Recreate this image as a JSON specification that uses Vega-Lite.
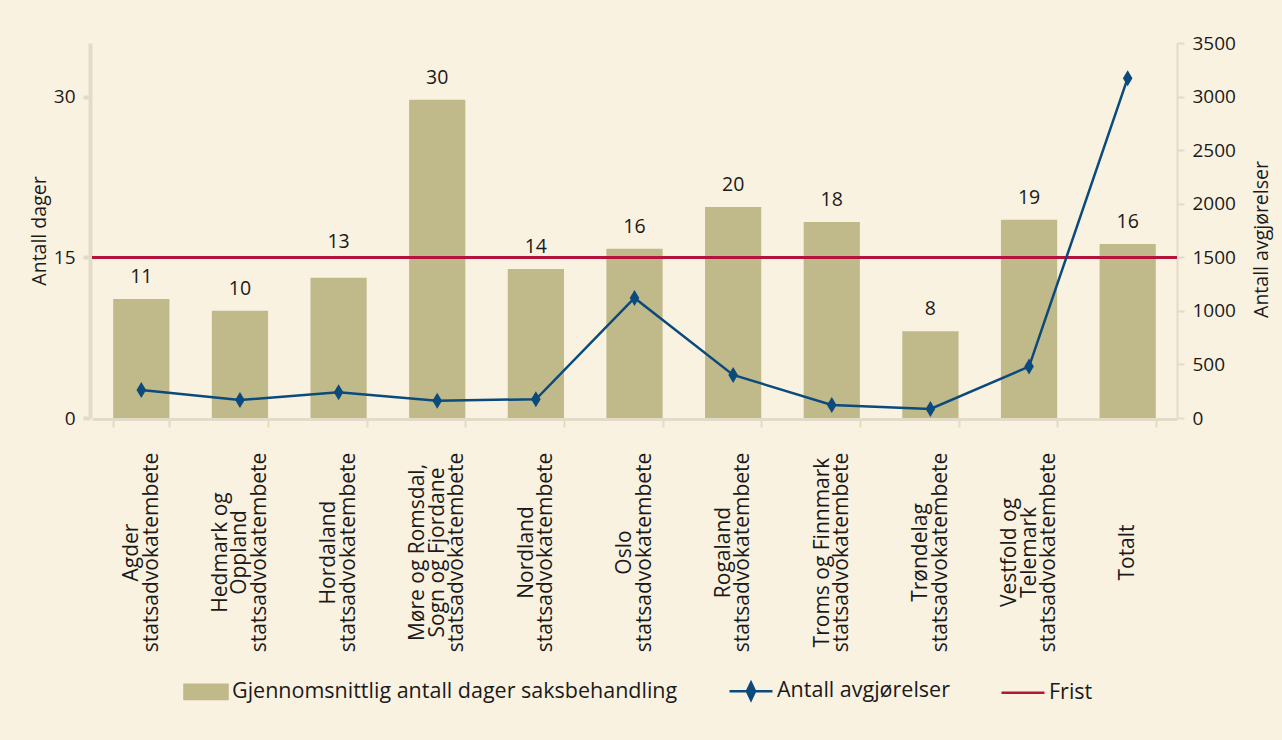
{
  "$schema": "https://vega.github.io/schema/vega-lite/v6.json",
  "width": 1085,
  "height": 375,
  "autosize": {"type": "none"},
  "padding": {"left": 92, "top": 43, "right": 105, "bottom": 322},
  "background": "#faf2e1",
  "config": {
    "view": {"stroke": null},
    "font": "Open Sans",
    "axis": {"grid": false, "labelFont": "Open Sans", "titleFont": "Open Sans", "labelColor": "#1a1a1a", "titleColor": "#1a1a1a", "labelFontSize": 19, "titleFontSize": 19.5, "titleFontWeight": "normal", "domainColor": "#e3dbc7", "tickColor": "#e3dbc7"},
    "legend": {"labelFont": "Open Sans", "labelFontSize": 21.5, "labelColor": "#1a1a1a", "labelLimit": 600}
  },
  "data": {
    "values": [
      {"kategori": "Agder\nstatsadvokatembete", "dager": 11.1, "avgjorelser": 262},
      {"kategori": "Hedmark og\nOppland\nstatsadvokatembete", "dager": 10.0, "avgjorelser": 168},
      {"kategori": "Hordaland\nstatsadvokatembete", "dager": 13.1, "avgjorelser": 240},
      {"kategori": "Møre og Romsdal,\nSogn og Fjordane\nstatsadvokatembete", "dager": 29.7, "avgjorelser": 162},
      {"kategori": "Nordland\nstatsadvokatembete", "dager": 13.9, "avgjorelser": 175},
      {"kategori": "Oslo\nstatsadvokatembete", "dager": 15.8, "avgjorelser": 1120},
      {"kategori": "Rogaland\nstatsadvokatembete", "dager": 19.7, "avgjorelser": 402},
      {"kategori": "Troms og Finnmark\nstatsadvokatembete", "dager": 18.3, "avgjorelser": 122},
      {"kategori": "Trøndelag\nstatsadvokatembete", "dager": 8.1, "avgjorelser": 84},
      {"kategori": "Vestfold og\nTelemark\nstatsadvokatembete", "dager": 18.5, "avgjorelser": 480},
      {"kategori": "Totalt", "dager": 16.25, "avgjorelser": 3172}
    ]
  },
  "encoding": {
    "x": {
      "field": "kategori", "type": "nominal", "sort": null,
      "scale": {"paddingInner": 0.43, "paddingOuter": 0.215},
      "axis": {
        "title": null, "labelAngle": -90, "labelAlign": "center", "labelBaseline": "middle",
        "labelExpr": "split(datum.label, '\\n')", "labelLineHeight": 19.5, "labelFontSize": 21,
        "labelOffset": {"condition": [{"test": "split(datum.value, '\\n').length === 3", "value": -19.5}, {"test": "split(datum.value, '\\n').length === 2", "value": -9.75}], "value": 0},
        "labelPadding": 125, "labelLimit": 400, "labelOverlap": false, "labelFlush": false,
        "tickBand": "extent", "tickSize": 8, "tickWidth": 2, "domainWidth": 3, "offset": 1
      }
    }
  },
  "layer": [
    {
      "layer": [
        {
          "mark": {"type": "bar", "color": "#c0b98a"},
          "encoding": {
            "y": {
              "field": "dager", "type": "quantitative",
              "scale": {"domain": [0, 35]},
              "axis": {"title": "Antall dager", "values": [0, 15, 30], "tickSize": 7, "tickWidth": 4, "domainWidth": 4, "labelPadding": 8, "titlePadding": 4, "offset": 2}
            },
            "color": {
              "datum": "Gjennomsnittlig antall dager saksbehandling",
              "scale": {
                "domain": ["Gjennomsnittlig antall dager saksbehandling", "Antall avgjørelser", "Frist"],
                "range": ["#c0b98a", "#0b4a7c", "#b3133c"]
              },
              "legend": {
                "title": null, "orient": "none", "direction": "horizontal", "legendX": 91, "legendY": 625,
                "symbolSize": 1849, "labelOffset": 3, "columnPadding": 46, "symbolStrokeWidth": 2.5, "labelLimit": 600,
                "encoding": {
                  "symbols": {
                    "shape": {"value": {"expr": "datum.value === 'Frist' ? 'M-1,0H1' : datum.value === 'Antall avgjørelser' ? 'M-1,0H1M0,-0.4L0.19,0L0,0.4L-0.19,0Z' : 'M-1,-0.33H1V0.33H-1Z'"}},
                    "fill": {"value": {"expr": "datum.value === 'Frist' ? 'transparent' : datum.value === 'Antall avgjørelser' ? '#0b4a7c' : '#c0b98a'"}},
                    "stroke": {"value": {"expr": "datum.value === 'Frist' ? '#b3133c' : datum.value === 'Antall avgjørelser' ? '#0b4a7c' : 'transparent'"}},
                    "strokeWidth": {"value": 2.5},
                    "opacity": {"value": 1},
                    "fillOpacity": {"value": 1}
                  }
                }
              }
            }
          }
        },
        {
          "transform": [{"filter": "datum.kategori !== 'Hordaland\\nstatsadvokatembete'"}],
          "mark": {"type": "text", "color": "#1a1a1a", "fontSize": 19.5, "baseline": "alphabetic", "dy": -16},
          "encoding": {
            "y": {"field": "dager", "type": "quantitative"},
            "text": {"field": "dager", "type": "quantitative", "format": ".0f"}
          }
        },
        {
          "transform": [{"filter": "datum.kategori === 'Hordaland\\nstatsadvokatembete'"}],
          "mark": {"type": "text", "color": "#1a1a1a", "fontSize": 19.5, "baseline": "alphabetic", "dy": -30},
          "encoding": {
            "y": {"field": "dager", "type": "quantitative"},
            "text": {"field": "dager", "type": "quantitative", "format": ".0f"}
          }
        },
        {
          "mark": {"type": "rule", "strokeWidth": 2.5},
          "encoding": {
            "x": null,
            "y": {"datum": 15, "type": "quantitative"},
            "color": {"datum": "Frist"}
          }
        }
      ]
    },
    {
      "layer": [
        {
          "mark": {"type": "line", "strokeWidth": 2.5},
          "encoding": {
            "y": {
              "field": "avgjorelser", "type": "quantitative",
              "scale": {"domain": [0, 3500]},
              "axis": {"title": "Antall avgjørelser", "orient": "right", "format": "d", "values": [0, 500, 1000, 1500, 2000, 2500, 3000, 3500], "tickSize": 7, "tickWidth": 2, "domainWidth": 2, "labelPadding": 8, "titlePadding": 17, "titleAngle": 270, "titleBaseline": "top", "titleY": 196}
            },
            "color": {"datum": "Antall avgjørelser"}
          }
        },
        {
          "mark": {"type": "point", "shape": "M0,-1L0.6,0L0,1L-0.6,0Z", "size": 256, "filled": true, "opacity": 1, "color": "#0b4a7c"},
          "encoding": {
            "y": {"field": "avgjorelser", "type": "quantitative"}
          }
        }
      ]
    }
  ],
  "resolve": {"scale": {"y": "independent"}}
}
